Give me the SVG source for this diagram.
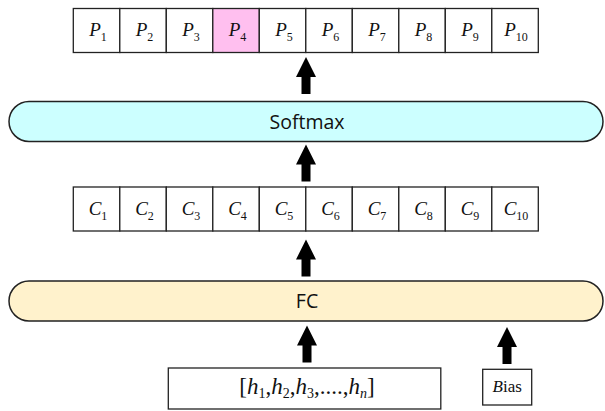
<svg xmlns="http://www.w3.org/2000/svg" width="605" height="411" viewBox="0 0 605 411">
<style>
.cell{fill:#fff;stroke:#222;stroke-width:1.3}
.pill{stroke:#222;stroke-width:1.5}
.box{fill:#fff;stroke:#222;stroke-width:1.3}
.v{font-family:"Liberation Serif",serif;font-style:italic;font-size:19px;fill:#111;text-anchor:middle}
.s{font-style:normal;font-size:12px}
.lbl{font-family:"Open Sans","DejaVu Sans",sans-serif;font-size:19.5px;fill:#111;text-anchor:middle}
.arr{fill:#000}
</style>
<defs>
<path id="ar" d="M0,0 L10,20 L4.5,20 L4.5,37 L-4.5,37 L-4.5,20 L-10,20 Z"/>
</defs>
<g id="p-row">
<rect class="cell" x="73.3" y="8.5" width="46.5" height="44"/>
<rect class="cell" x="119.8" y="8.5" width="46.5" height="44"/>
<rect class="cell" x="166.3" y="8.5" width="46.5" height="44"/>
<rect class="cell" x="212.8" y="8.5" width="46.5" height="44" style="fill:#FFBFEF"/>
<rect class="cell" x="259.3" y="8.5" width="46.5" height="44"/>
<rect class="cell" x="305.8" y="8.5" width="46.5" height="44"/>
<rect class="cell" x="352.3" y="8.5" width="46.5" height="44"/>
<rect class="cell" x="398.8" y="8.5" width="46.5" height="44"/>
<rect class="cell" x="445.3" y="8.5" width="46.5" height="44"/>
<rect class="cell" x="491.8" y="8.5" width="46.5" height="44"/>
<text class="v" x="98" y="36">P<tspan class="s" dy="5">1</tspan></text>
<text class="v" x="144.5" y="36">P<tspan class="s" dy="5">2</tspan></text>
<text class="v" x="191" y="36">P<tspan class="s" dy="5">3</tspan></text>
<text class="v" x="237.5" y="36">P<tspan class="s" dy="5">4</tspan></text>
<text class="v" x="284" y="36">P<tspan class="s" dy="5">5</tspan></text>
<text class="v" x="330.5" y="36">P<tspan class="s" dy="5">6</tspan></text>
<text class="v" x="377" y="36">P<tspan class="s" dy="5">7</tspan></text>
<text class="v" x="423.5" y="36">P<tspan class="s" dy="5">8</tspan></text>
<text class="v" x="470" y="36">P<tspan class="s" dy="5">9</tspan></text>
<text class="v" x="516" y="36">P<tspan class="s" dy="5">10</tspan></text>
</g>
<g id="softmax">
<rect class="pill" x="9" y="101.5" width="594" height="40" rx="20" fill="#CCFFFF"/>
<text class="lbl" x="307" y="128.5">Softmax</text>
</g>
<g id="c-row">
<rect class="cell" x="73.3" y="187" width="46.5" height="44"/>
<rect class="cell" x="119.8" y="187" width="46.5" height="44"/>
<rect class="cell" x="166.3" y="187" width="46.5" height="44"/>
<rect class="cell" x="212.8" y="187" width="46.5" height="44"/>
<rect class="cell" x="259.3" y="187" width="46.5" height="44"/>
<rect class="cell" x="305.8" y="187" width="46.5" height="44"/>
<rect class="cell" x="352.3" y="187" width="46.5" height="44"/>
<rect class="cell" x="398.8" y="187" width="46.5" height="44"/>
<rect class="cell" x="445.3" y="187" width="46.5" height="44"/>
<rect class="cell" x="491.8" y="187" width="46.5" height="44"/>
<text class="v" x="98" y="214.5">C<tspan class="s" dy="5">1</tspan></text>
<text class="v" x="144.5" y="214.5">C<tspan class="s" dy="5">2</tspan></text>
<text class="v" x="191" y="214.5">C<tspan class="s" dy="5">3</tspan></text>
<text class="v" x="237.5" y="214.5">C<tspan class="s" dy="5">4</tspan></text>
<text class="v" x="284" y="214.5">C<tspan class="s" dy="5">5</tspan></text>
<text class="v" x="330.5" y="214.5">C<tspan class="s" dy="5">6</tspan></text>
<text class="v" x="377" y="214.5">C<tspan class="s" dy="5">7</tspan></text>
<text class="v" x="423.5" y="214.5">C<tspan class="s" dy="5">8</tspan></text>
<text class="v" x="470" y="214.5">C<tspan class="s" dy="5">9</tspan></text>
<text class="v" x="516" y="214.5">C<tspan class="s" dy="5">10</tspan></text>
</g>
<g id="fc">
<rect class="pill" x="9" y="281" width="594" height="40" rx="20" fill="#FFF2CC"/>
<text class="lbl" x="307" y="307.5">FC</text>
</g>
<g id="input">
<rect class="box" x="168.3" y="368" width="272.5" height="41"/>
<text class="v" x="307" y="394" style="font-size:23px"><tspan style="font-style:normal">[</tspan>h<tspan class="s" dy="4" style="font-size:14px">1</tspan><tspan dy="-4" style="font-style:normal">,</tspan>h<tspan class="s" dy="4" style="font-size:14px">2</tspan><tspan dy="-4" style="font-style:normal">,</tspan>h<tspan class="s" dy="4" style="font-size:14px">3</tspan><tspan dy="-4" style="font-style:normal">,....,</tspan>h<tspan dy="4" style="font-size:14px">n</tspan><tspan dy="-4" style="font-style:normal">]</tspan></text>
</g>
<g id="bias">
<rect class="box" x="482.7" y="369.3" width="49" height="35.7"/>
<text class="v" x="507.2" y="392" style="font-size:17px">B<tspan style="font-style:normal">ias</tspan></text>
</g>
<g id="connectors" class="arr">
<use href="#ar" x="306" y="57"/>
<use href="#ar" x="306" y="144.5"/>
<use href="#ar" x="306" y="239.5"/>
<use href="#ar" x="307" y="325.5"/>
<use href="#ar" x="507" y="327"/>
</g>
</svg>
